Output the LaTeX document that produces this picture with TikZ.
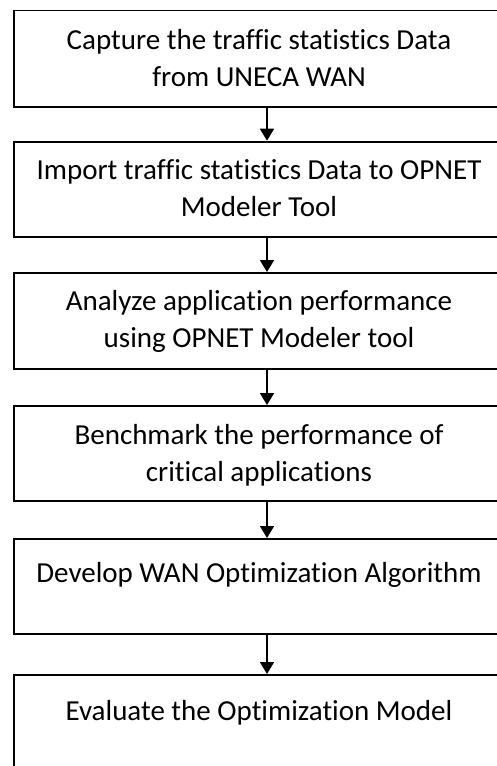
\documentclass[tikz,border=0pt]{standalone}
\usepackage{fontspec}
\setmainfont{Carlito}[Ligatures={NoCommon}]
\usetikzlibrary{arrows.meta}
\tikzset{
  stepbox/.style={draw=black, line width=1.8pt, rectangle, minimum width=492pt, inner sep=0pt, anchor=north west},
  steptext/.style={font=\fontsize{29}{37}\selectfont, align=center, inner sep=0pt, anchor=base},
  flowarrow/.style={line width=1.8pt, -{Triangle[width=14pt,length=12pt]}}
}
\begin{document}
\begin{tikzpicture}[x=1pt,y=-1pt]
\useasboundingbox (0,0) rectangle (497,766);
\fill[white] (0,0) rectangle (497,766);
\clip (0,0) rectangle (497,766);
\coordinate (ax) at (267,0);
\node[stepbox, minimum height=96.5pt] (b1) at (13,9.5) {};
\node[stepbox, minimum height=95.3pt] (b2) at (13,140.7) {};
\node[stepbox, minimum height=96pt] (b3) at (13,272) {};
\node[stepbox, minimum height=95pt] (b4) at (13,405) {};
\node[stepbox, minimum height=95pt] (b5) at (13,538) {};
\node[stepbox, minimum height=120pt] (b6) at (13,674) {};
\node[steptext] (t1) at (259,86) {Capture the traffic statistics Data\\from UNECA WAN};
\node[steptext] (t2) at (259,216) {Import traffic statistics Data to OPNET\\Modeler Tool};
\node[steptext] (t3) at (259,347.5) {Analyze application performance\\using OPNET Modeler tool};
\node[steptext] (t4) at (259,481) {Benchmark the performance of\\critical applications};
\node[steptext] (t5) at (259,582.5) {Develop WAN Optimization Algorithm};
\node[steptext] (t6) at (259,720) {Evaluate the Optimization Model};
\draw[flowarrow] (b1.south -| ax) -- (b2.north -| ax);
\draw[flowarrow] (b2.south -| ax) -- (b3.north -| ax);
\draw[flowarrow] (b3.south -| ax) -- (b4.north -| ax);
\draw[flowarrow] (b4.south -| ax) -- (b5.north -| ax);
\draw[flowarrow] (b5.south -| ax) -- (b6.north -| ax);
\end{tikzpicture}
\end{document}
